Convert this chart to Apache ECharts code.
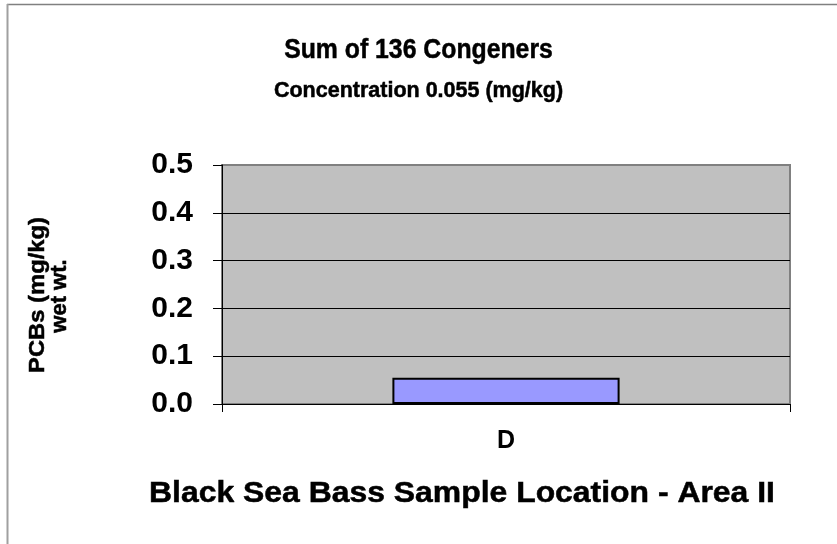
<!DOCTYPE html>
<html>
<head>
<meta charset="utf-8">
<script src="https://cdn.jsdelivr.net/npm/echarts@6/dist/echarts.min.js"></script>
<style>
  html, body { margin: 0; padding: 0; background: #fff; }
  #chart { width: 837px; height: 544px; }
</style>
</head>
<body>
<div id="chart"></div>
<script>
// data
const categories = ['D'];
const sumValues = [0.055];
const yTicks = ['0.0', '0.1', '0.2', '0.3', '0.4', '0.5'];

const titleText = 'Sum of 136 Congeners';
const subTitleText = 'Concentration 0.055 (mg/kg)';
const xTitle = 'Black Sea Bass Sample Location - Area II';
const yTitle1 = 'PCBs (mg/kg)';
const yTitle2 = 'wet wt.';

const font = 'Arial, "Liberation Sans", sans-serif';

// bold black text helper for the graphic titles
const label = (text, size) => ({
  text: text,
  fontFamily: font,
  fontSize: size,
  fontWeight: 'bold',
  fill: '#000',
  stroke: '#000',
  lineWidth: 0.5,
  align: 'center',
  verticalAlign: 'middle',
});

const myChart = echarts.init(document.getElementById('chart'));
const option = {
  backgroundColor: '#fff',
  animation: false,
  grid: {
    left: 222,
    right: 47,
    top: 165,
    bottom: 140,
    show: true,
    backgroundColor: '#c0c0c0',
    borderColor: '#808080',
    borderWidth: 2,
  },
  xAxis: {
    type: 'category',
    data: categories,
    axisLine: { lineStyle: { color: '#000', width: 1 } },
    axisTick: { show: true, length: 8, lineStyle: { color: '#000' } },
    axisLabel: {
      margin: 25,
      fontFamily: font,
      fontSize: 25,
      fontWeight: 'bold',
      color: '#000',
    },
  },
  yAxis: {
    type: 'value',
    min: 0,
    max: 0.5,
    interval: 0.1,
    axisLine: { show: true, lineStyle: { color: '#000', width: 1 } },
    axisTick: { show: true, length: 9, lineStyle: { color: '#000' } },
    splitLine: {
      show: true,
      lineStyle: {
        color: ['#000', '#000', '#000', '#000', '#000', '#808080'],
        width: 1,
      },
    },
    axisLabel: {
      margin: 29,
      fontFamily: font,
      fontSize: 30,
      fontWeight: 'bold',
      color: '#000',
      formatter: (v) => yTicks[Math.round(v * 10)],
    },
  },
  series: [
    {
      type: 'bar',
      data: sumValues,
      barWidth: '40%',
      itemStyle: {
        color: '#9999ff',
        borderColor: '#000',
        borderWidth: 2,
      },
    },
  ],
  graphic: [
    {
      type: 'line',
      shape: { x1: 7, y1: 4.5, x2: 837, y2: 4.5 },
      style: { stroke: '#808080', lineWidth: 1.5 },
    },
    {
      type: 'line',
      shape: { x1: 7.5, y1: 4, x2: 7.5, y2: 544 },
      style: { stroke: '#a0a0a0', lineWidth: 2 },
    },
    { type: 'text', x: 418.5, y: 50, scaleX: 0.87, style: label(titleText, 28.5) },
    { type: 'text', x: 418.5, y: 91, style: label(subTitleText, 21.5) },
    { type: 'text', x: 462, y: 494, scaleX: 1.1, style: label(xTitle, 29) },
    {
      type: 'text',
      x: 38,
      y: 295,
      rotation: Math.PI / 2,
      scaleX: 1.08,
      style: label(yTitle1, 22),
    },
    {
      type: 'text',
      x: 60,
      y: 296,
      rotation: Math.PI / 2,
      style: label(yTitle2, 22),
    },
  ],
};
myChart.setOption(option);
window.addEventListener('resize', () => {
  myChart.resize();
});
</script>
</body>
</html>
